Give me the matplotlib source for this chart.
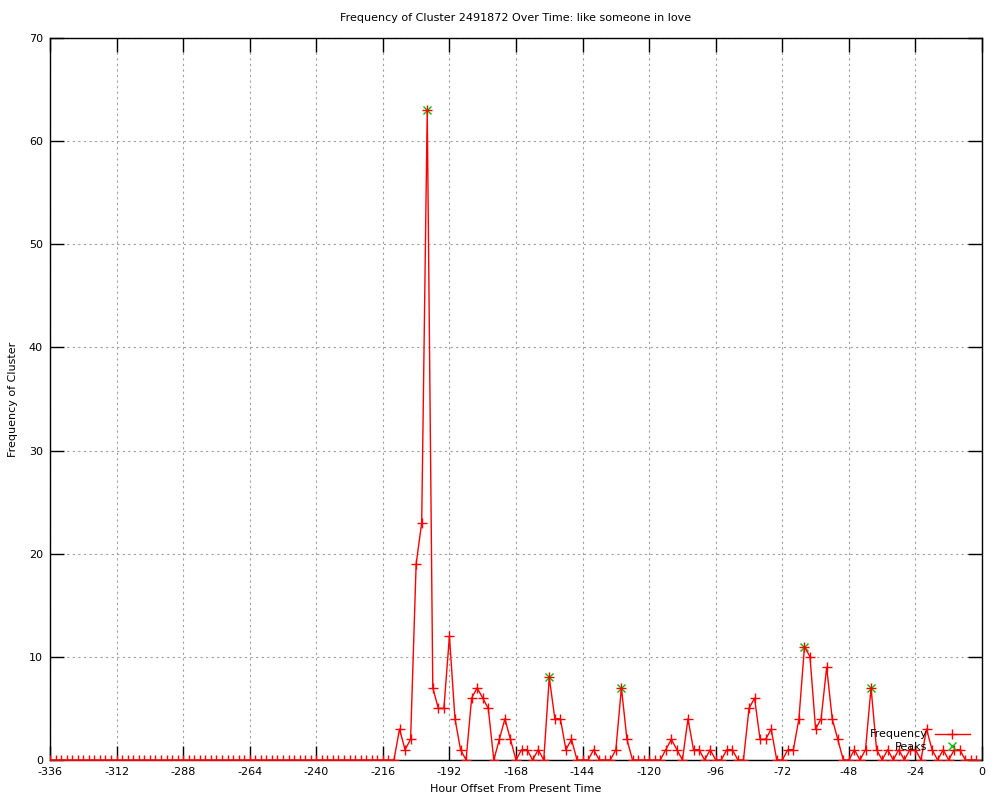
import numpy as np
import matplotlib
matplotlib.use("Agg")
import matplotlib.pyplot as plt

# hourly offsets (every 2 hours) and cluster counts
hours = np.arange(-336, 0, 2)
counts = [0] * 63 + [
    3, 1, 2, 19, 23, 63, 7, 5, 5, 12,        # -210 .. -192
    4, 1, 0, 6, 7, 6, 5, 0, 2, 4,            # -190 .. -172
    2, 0, 1, 1, 0, 1, 0, 8, 4, 4,            # -170 .. -152
    1, 2, 0, 0, 0, 1, 0, 0, 0, 1,            # -150 .. -132
    7, 2, 0, 0, 0, 0, 0, 0, 1, 2,            # -130 .. -112
    1, 0, 4, 1, 1, 0, 1, 0, 0, 1,            # -110 .. -92
    1, 0, 0, 5, 6, 2, 2, 3, 0, 0,            # -90 .. -72
    1, 1, 4, 11, 10, 3, 4, 9, 4, 2,          # -70 .. -52
    0, 0, 1, 0, 1, 7, 1, 0, 1, 0,            # -50 .. -32
    1, 0, 1, 1, 0, 3, 1, 0, 1, 0,            # -30 .. -12
    1, 1, 0, 0, 0,                           # -10 .. -2
]

peak_hours = [-200, -156, -130, -64, -40]
peak_counts = [63, 8, 7, 11, 7]

xticks = list(range(-336, 1, 24))
yticks = list(range(0, 71, 10))

plt.rcParams['font.family'] = ['DejaVu Sans']
plt.rcParams['axes.unicode_minus'] = False
fs = 8

fig = plt.figure(figsize=(10, 8), dpi=100)
ax = fig.add_axes([0.05, 0.05, 0.932, 0.9025])

ax.plot(peak_hours, peak_counts, linestyle='none', marker='x', color='#00c000',
        markersize=6, markeredgewidth=1.0, label='Peaks', zorder=2)
ax.plot(hours, counts, color='#ff0000', linewidth=1.0, marker='+',
        markersize=7, markeredgewidth=1.0, label='Frequency', zorder=3)

ax.set_xlim(-336, 0)
ax.set_ylim(0, 70)
ax.set_xticks(xticks)
ax.set_yticks(yticks)
ax.tick_params(direction='in', length=10, width=1, top=True, right=True,
               labelsize=fs, pad=5)
ax.grid(True, color='#a0a0a0', linestyle=(0, (2, 3)), linewidth=0.8)
for s in ax.spines.values():
    s.set_linewidth(1)

ax.set_title('Frequency of Cluster 2491872 Over Time: like someone in love',
             fontsize=fs, pad=12)
ax.set_xlabel('Hour Offset From Present Time', fontsize=fs, labelpad=5)
ax.set_ylabel('Frequency of Cluster', fontsize=fs, labelpad=8)

handles, labels = ax.get_legend_handles_labels()
ax.legend(handles[::-1], labels[::-1], loc='lower right', frameon=False,
          markerfirst=False, fontsize=fs, handlelength=3.1, handletextpad=0.7,
          labelspacing=0.25, bbox_to_anchor=(0.995, 0.0), borderaxespad=0.3)

fig.savefig('out.png', dpi=100)
